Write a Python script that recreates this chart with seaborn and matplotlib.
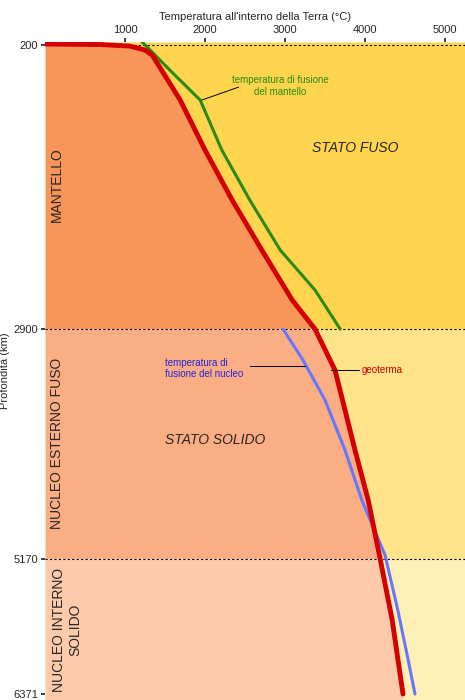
import numpy as np
import matplotlib
matplotlib.use("Agg")
import matplotlib.pyplot as plt
import seaborn as sns

geo_T = [0, 690, 1060, 1250, 1340, 1690, 2000, 2340, 2710, 3090, 3375, 3625, 3875, 4040, 4190, 4340, 4475]
geo_d = [190, 195, 210, 248, 295, 723, 1198, 1674, 2149, 2624, 2900, 3305, 4095, 4588, 5170, 5713, 6371]
mm_T = [1190, 1560, 1940, 2210, 2560, 2940, 3375, 3690]
mm_d = [152, 438, 723, 1198, 1674, 2149, 2529, 2900]
cm_T = [2975, 3225, 3500, 3750, 3960, 4250, 4410, 4540, 4625]
cm_d = [2900, 3206, 3601, 4095, 4588, 5130, 5624, 6069, 6371]
layers = [200, 2900, 5170, 6371]
xticks = [1000, 2000, 3000, 4000, 5000]

# depth axis of the original figure is not linear: piecewise mapping between layer boundaries
_d = np.array([-2000, 200, 2900, 5170, 6371, 9000])
_p = np.array([45 - 2200 / 9.507, 45, 329, 559, 694, 694 + 2629 / 8.896])
fwd = lambda d: np.interp(d, _d, _p)
inv = lambda p: np.interp(p, _p, _d)

sns.set_theme(style="white")
plt.rcParams['font.family'] = ['Liberation Sans', 'DejaVu Sans']
fig = plt.figure(figsize=(4.65, 7.0), dpi=100)
ax = fig.add_axes([45/465, 0, 420/465, 658/700])
ax.set_yscale('function', functions=(fwd, inv))
ax.set_xlim(0, 5250)
ymin, ymax = 171, 6424
ax.set_ylim(ymax, ymin)

left_c = ['#F8965A', '#FBAE84', '#FDCBA9']
right_c = ['#FFD550', '#FFE38A', '#FFF0B8']
tops = [ymin, 2900, 5170]
bots = [2900, 5170, ymax]
dd = np.linspace(ymin, ymax, 1200)
gT = np.interp(dd, geo_d, geo_T)
for t, b, lc, rc in zip(tops, bots, left_c, right_c):
    m = (dd >= t) & (dd <= b)
    ax.fill_betweenx(dd[m], 0, gT[m], color=lc, lw=0)
    ax.fill_betweenx(dd[m], gT[m], 5250, color=rc, lw=0)
for y in layers[:3]:
    ax.axhline(y, color='black', ls=(0, (2, 2)), lw=0.8)

sns.lineplot(x=mm_T, y=mm_d, sort=False, color='#2A8A10', lw=2.2, ax=ax, estimator=None)
sns.lineplot(x=cm_T, y=cm_d, sort=False, color='#6677FF', lw=2.2, ax=ax, estimator=None)
sns.lineplot(x=geo_T, y=geo_d, sort=False, color='#D40000', lw=3.5, ax=ax, estimator=None)

ax.xaxis.tick_top()
ax.xaxis.set_label_position('top')
ax.set_xticks(xticks)
ax.set_xticklabels([str(v) for v in xticks], fontsize=8)
ax.set_xlabel("Temperatura all'interno della Terra (°C)", fontsize=8, labelpad=4)
ax.set_yticks(layers)
ax.set_yticklabels([str(v) for v in layers], fontsize=8)
ax.yaxis.set_minor_locator(matplotlib.ticker.NullLocator())
ax.set_ylabel("Profondità (km)", fontsize=8, labelpad=2)
ax.tick_params(length=3, pad=2, direction='out', top=True, left=True, bottom=False)
for s in ax.spines.values():
    s.set_visible(False)

ax.text(150, 1530, "MANTELLO", rotation=90, ha='center', va='center', fontsize=10)
ax.text(150, 4025, "NUCLEO ESTERNO FUSO", rotation=90, ha='center', va='center', fontsize=10)
ax.text(275, 5800, "NUCLEO INTERNO\nSOLIDO", rotation=90, ha='center', va='center', fontsize=10, linespacing=1.2)
ax.text(3875, 1180, "STATO FUSO", style='italic', ha='center', va='center', fontsize=10)
ax.text(2125, 3996, "STATO SOLIDO", style='italic', ha='center', va='center', fontsize=10)
ax.text(2940, 590, "temperatura di fusione\ndel mantello", color='#2A8A10', ha='center', va='center', fontsize=7)
ax.plot([1960, 2420], [723, 600], color='black', lw=0.7)
ax.text(1500, 3290, "temperatura di\nfusione del nucleo", color='#2222DD', ha='left', va='center', fontsize=7)
ax.plot([2560, 3250], [3266, 3266], color='black', lw=0.7)
ax.text(3960, 3305, "geoterma", color='#CC0000', ha='left', va='center', fontsize=7)
ax.plot([3580, 3920], [3305, 3305], color='black', lw=0.7)

fig.savefig("out.png", dpi=100)
